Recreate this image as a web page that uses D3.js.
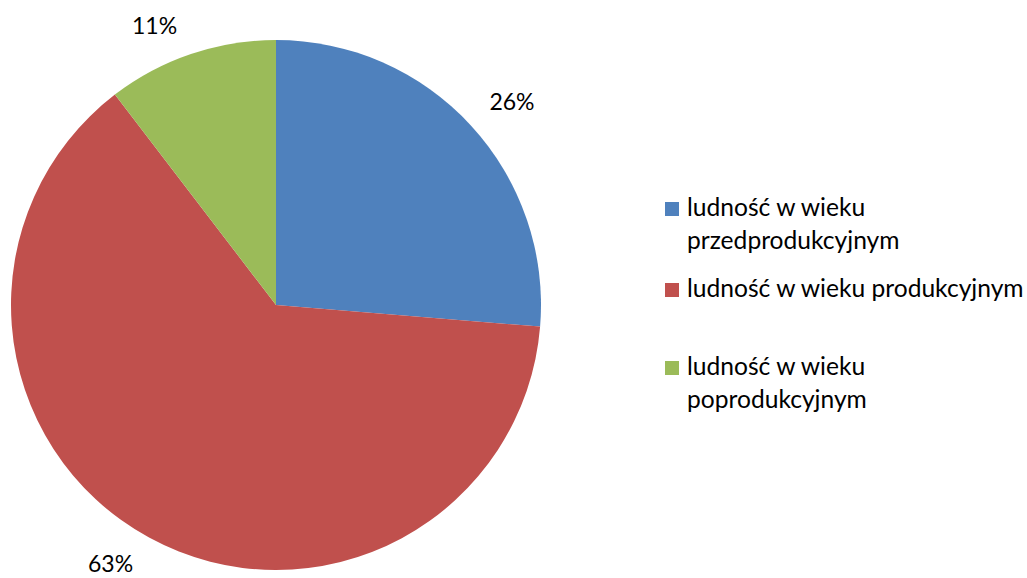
<!DOCTYPE html>
<html><head><meta charset="utf-8">
<script src="https://cdn.jsdelivr.net/npm/d3@7"></script>
<style>body{margin:0;background:#fff}svg{display:block}text{font-family:Lato,"Open Sans",sans-serif;fill:#000}</style>
</head><body><svg width="1027" height="578"></svg>
<script>
const categories = ["ludność w wieku przedprodukcyjnym","ludność w wieku produkcyjnym","ludność w wieku poprodukcyjnym"];
const legendLines = [["ludność w wieku","przedprodukcyjnym"],["ludność w wieku produkcyjnym"],["ludność w wieku","poprodukcyjnym"]];
const values = [26.3, 63.3, 10.4];
const labels = ["26%","63%","11%"];
const colors = ["#4F81BD","#C0504D","#9BBB59"];

const svg = d3.select("svg");
const cx = 276, cy = 305, r = 265;
const pie = d3.pie().sort(null).value(d=>d);
const arcs = pie(values);
const arc = d3.arc().innerRadius(0).outerRadius(r);
const g = svg.append("g").attr("transform",`translate(${cx},${cy})`);
g.selectAll("path").data(arcs).join("path").attr("d",arc).attr("fill",(d,i)=>colors[i]);
// label placement: outside end, with small nudges to mimic the reference's best-fit layout
const lab = d3.arc().innerRadius(r+45).outerRadius(r+45);
const nudge = [[8,7],[-17,-13],[-22,15]];
g.selectAll("text.l").data(arcs).join("text").attr("class","l")
  .attr("text-anchor","middle").attr("dy","0.35em").style("font-size","23px")
  .attr("x",(d,i)=>lab.centroid(d)[0]+nudge[i][0]).attr("y",(d,i)=>lab.centroid(d)[1]+nudge[i][1]).text((d,i)=>labels[i]);

const legY = [216, 297, 375];
const lg = svg.append("g");
legendLines.forEach((lines,i)=>{
  lg.append("rect").attr("x",665).attr("y",legY[i]-14).attr("width",14).attr("height",14).attr("fill",colors[i]);
  lines.forEach((t,j)=>{
    lg.append("text").attr("x",687).attr("y",legY[i]+j*33).style("font-size","24.6px").text(t);
  });
});
</script></body></html>
